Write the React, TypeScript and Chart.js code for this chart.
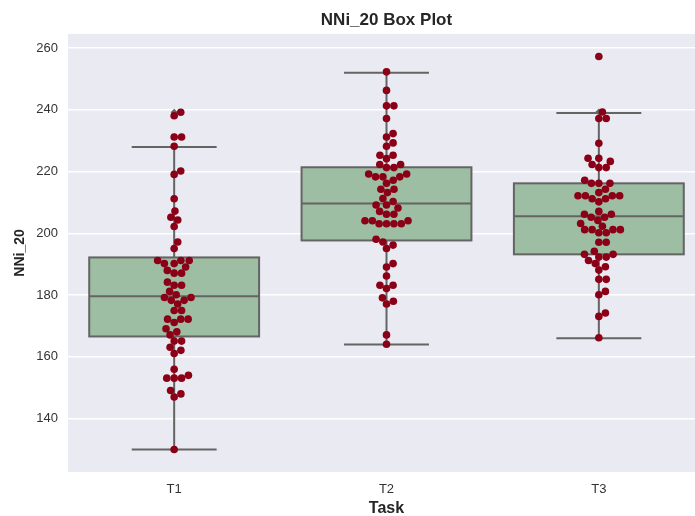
import { useEffect, useRef } from "react";
import { Chart, registerables } from "chart.js";

Chart.register(...registerables);

const categories = ["T1", "T2", "T3"];

const t1Values = [
  239.2, 238.1, 231.2, 231.2, 228.2, 220.2, 219.1, 211.2, 207.2, 205.2, 204.3, 202.2, 197.2, 195.1,
  191.2, 191.2, 191.2, 190.2, 190.2, 189.1, 188.0, 187.1, 187.1, 184.2, 183.2, 183.2, 181.2, 180.1,
  179.2, 179.2, 178.3, 178.3, 177.1, 175.0, 175.0, 172.2, 172.2, 172.2, 171.1, 169.1, 168.1, 167.1,
  165.1, 165.1, 163.1, 162.1, 161.1, 156.0, 154.0, 153.1, 153.1, 153.1, 149.1, 148.0, 147.0, 130.0,
];
const t2Values = [
  252.3, 246.3, 241.3, 241.3, 237.2, 232.3, 231.2, 229.3, 228.2, 225.3, 225.3, 224.2, 222.3, 222.3,
  221.3, 221.3, 219.2, 219.2, 218.3, 218.3, 218.3, 217.2, 216.2, 214.3, 214.3, 213.2, 211.3, 210.3,
  209.2, 209.2, 208.2, 207.1, 206.2, 206.2, 204.1, 204.1, 204.1, 203.1, 203.1, 203.1, 203.1, 198.1,
  197.2, 196.2, 195.1, 190.2, 189.1, 186.2, 183.2, 183.2, 182.1, 179.1, 178.0, 177.1, 167.1, 164.1,
];
const t3Values = [
  257.3, 239.3, 237.2, 237.2, 229.2, 224.3, 224.3, 223.3, 222.3, 221.3, 221.3, 217.2, 216.2, 216.2,
  216.2, 214.3, 213.2, 212.2, 212.2, 212.2, 212.2, 211.2, 211.2, 210.2, 207.1, 206.2, 206.2, 205.2,
  205.2, 204.2, 203.2, 202.3, 201.2, 201.2, 201.2, 201.2, 200.2, 200.2, 197.1, 197.1, 194.2, 193.2,
  193.2, 192.3, 192.3, 191.2, 190.2, 189.2, 188.1, 185.1, 185.1, 181.2, 180.1, 174.2, 173.1, 166.2,
];
const seriesValues = [t1Values, t2Values, t3Values];

const boxQ1 = [166.6, 197.7, 193.2];
const boxMedian = [179.6, 209.7, 205.5];
const boxQ3 = [192.2, 221.4, 216.2];
const whiskerLow = [130.0, 164.0, 166.0];
const whiskerHigh = [228.0, 252.0, 239.0];

const yTicks = [140, 160, 180, 200, 220, 240, 260];
const xTicks = [0, 1, 2];

const FONT = "'Liberation Sans', Arial, sans-serif";
const TEXT = "#262626";
const BG = "#eaeaf2";
const BOX_FILL = "#9dbea3";
const EDGE = "#646464";
const DOT = "#8b0016";
const BOX_WIDTH = 0.8;
const CAP_WIDTH = 0.4;
const DOT_R = 3.8;
const SWARM_D = 7.4;

function swarmOffsets(ys: number[], d: number): number[] {
  const order = ys.map((_, i) => i).sort((a, b) => ys[b] - ys[a]);
  const placed: { x: number; y: number }[] = [];
  const out = new Array(ys.length).fill(0);
  for (const i of order) {
    const y = ys[i];
    const nb = placed.filter((p) => Math.abs(p.y - y) < d);
    const cands = [0];
    for (const n of nb) {
      const dy = y - n.y;
      const dx = Math.sqrt(Math.max(0, d * d - dy * dy));
      cands.push(n.x + dx, n.x - dx);
    }
    cands.sort((a, b) => Math.abs(a) - Math.abs(b));
    let chosen = 0;
    for (const c of cands) {
      const ok = nb.every((n) => (c - n.x) ** 2 + (y - n.y) ** 2 >= d * d - 1e-6);
      if (ok) {
        chosen = c;
        break;
      }
    }
    placed.push({ x: chosen, y });
    out[i] = chosen;
  }
  return out;
}

const bgPlugin = {
  id: "bg",
  beforeDraw(chart: any) {
    const { ctx, chartArea } = chart;
    ctx.save();
    ctx.fillStyle = BG;
    ctx.fillRect(chartArea.left, chartArea.top, chartArea.right - chartArea.left, chartArea.bottom - chartArea.top);
    ctx.restore();
  },
};

const boxPlugin = {
  id: "boxes",
  beforeDatasetsDraw(chart: any) {
    const { ctx } = chart;
    const xs = chart.scales.x;
    const ys = chart.scales.y;
    ctx.save();
    ctx.strokeStyle = EDGE;
    ctx.lineWidth = 2;
    categories.forEach((_, i) => {
      const xl = xs.getPixelForValue(i - BOX_WIDTH / 2);
      const xr = xs.getPixelForValue(i + BOX_WIDTH / 2);
      const xc = xs.getPixelForValue(i);
      const cl = xs.getPixelForValue(i - CAP_WIDTH / 2);
      const cr = xs.getPixelForValue(i + CAP_WIDTH / 2);
      const yq1 = ys.getPixelForValue(boxQ1[i]);
      const yq3 = ys.getPixelForValue(boxQ3[i]);
      const ym = ys.getPixelForValue(boxMedian[i]);
      const ylo = ys.getPixelForValue(whiskerLow[i]);
      const yhi = ys.getPixelForValue(whiskerHigh[i]);
      ctx.beginPath();
      ctx.moveTo(xc, yq3);
      ctx.lineTo(xc, yhi);
      ctx.moveTo(cl, yhi);
      ctx.lineTo(cr, yhi);
      ctx.moveTo(xc, yq1);
      ctx.lineTo(xc, ylo);
      ctx.moveTo(cl, ylo);
      ctx.lineTo(cr, ylo);
      ctx.stroke();
      ctx.fillStyle = BOX_FILL;
      ctx.fillRect(xl, yq3, xr - xl, yq1 - yq3);
      ctx.strokeRect(xl, yq3, xr - xl, yq1 - yq3);
      ctx.beginPath();
      ctx.moveTo(xl, ym);
      ctx.lineTo(xr, ym);
      ctx.stroke();
    });
    ctx.restore();
  },
};

const swarmPlugin = {
  id: "swarm",
  beforeDatasetsDraw(chart: any) {
    const meta = chart.getDatasetMeta(0);
    const data = chart.data.datasets[0].data as { x: number; y: number }[];
    const xs = chart.scales.x;
    categories.forEach((_, ci) => {
      const idx = data.map((p, i) => (p.x === ci ? i : -1)).filter((i) => i >= 0);
      const pys = idx.map((i) => meta.data[i].y);
      const offs = swarmOffsets(pys, SWARM_D);
      const xc = xs.getPixelForValue(ci);
      idx.forEach((i, k) => {
        meta.data[i].x = xc + offs[k];
      });
    });
  },
};

export default function App() {
  const ref = useRef<HTMLCanvasElement | null>(null);
  useEffect(() => {
    document.body.style.margin = "0";
    const points = seriesValues.flatMap((vals, ci) => vals.map((v) => ({ x: ci, y: v })));
    const fliers = seriesValues.flatMap((vals, ci) =>
      vals.filter((v) => v > whiskerHigh[ci] || v < whiskerLow[ci]).map((v) => ({ x: ci, y: v }))
    );
    const chart = new Chart(ref.current as HTMLCanvasElement, {
      type: "scatter",
      data: {
        datasets: [
          {
            data: points,
            backgroundColor: DOT,
            borderWidth: 0,
            pointRadius: DOT_R,
            pointHoverRadius: DOT_R,
          },
          {
            data: fliers,
            backgroundColor: EDGE,
            borderWidth: 0,
            pointStyle: "rectRot",
            pointRadius: 3.5,
          },
        ],
      },
      options: {
        animation: false,
        responsive: false,
        layout: { padding: 0 },
        plugins: {
          legend: { display: false },
          tooltip: { enabled: false },
          title: {
            display: true,
            text: "NNi_20 Box Plot",
            fullSize: false,
            color: TEXT,
            font: { family: FONT, size: 17, weight: "bold" },
            padding: { top: 10, bottom: 3.5 },
          },
        },
        scales: {
          x: {
            type: "linear",
            min: -0.5,
            max: 2.5,
            afterBuildTicks: (s: any) => {
              s.ticks = xTicks.map((v) => ({ value: v }));
            },
            afterFit: (s: any) => {
              s.height = 44;
            },
            grid: { display: false },
            border: { display: false },
            ticks: {
              padding: 2,
              color: "#333",
              font: { family: FONT, size: 13 },
              callback: (v: any) => categories[Number(v)] ?? "",
            },
            title: {
              display: true,
              text: "Task",
              color: TEXT,
              font: { family: FONT, size: 16, weight: "bold" },
              padding: { top: 0, bottom: -2 },
            },
          },
          y: {
            min: 122.7,
            max: 264.6,
            afterBuildTicks: (s: any) => {
              s.ticks = yTicks.map((v) => ({ value: v }));
            },
            afterFit: (s: any) => {
              s.width = 68;
            },
            grid: { color: "#ffffff", lineWidth: 1.5, drawTicks: false },
            border: { display: false },
            ticks: {
              padding: 10,
              color: "#333",
              font: { family: FONT, size: 13 },
            },
            title: {
              display: true,
              text: "NNi_20",
              color: TEXT,
              font: { family: FONT, size: 14, weight: "bold" },
              padding: { top: 12, bottom: 0 },
            },
          },
        },
      },
      plugins: [bgPlugin, boxPlugin, swarmPlugin],
    });
    return () => chart.destroy();
  }, []);
  return (
    <div style={{ width: 695, height: 516, overflow: "hidden", position: "relative" }}>
      <canvas ref={ref} width={709} height={516} style={{ display: "block" }} />
    </div>
  );
}
